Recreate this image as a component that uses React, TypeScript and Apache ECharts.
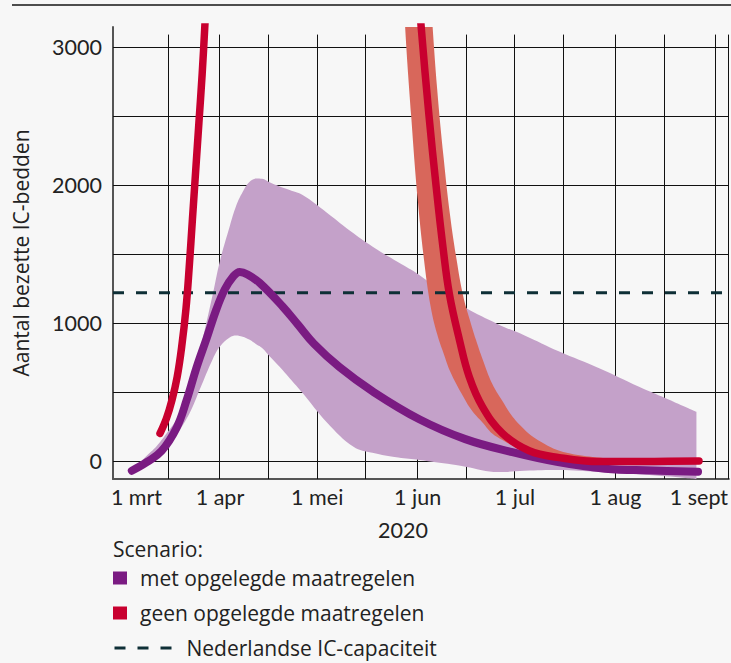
import React, { useEffect, useRef } from 'react';
import * as echarts from 'echarts';

// ---- time scale helpers (day offsets from 1 March 2020) ----
const DAY_MS = 86400000;
const START = Date.UTC(2020, 2, 1);
const day = (d: number) => START + d * DAY_MS;

// ---- axes ----
const xMinDay = -2;
const xMaxDay = 188;
const yMin = -130;
const yMax = 3145;
const xTickDays = [0, 31, 61, 92, 122, 153, 184];
const xTickLabels = ['1 mrt', '1 apr', '1 mei', '1 jun', '1 jul', '1 aug', '1 sept'];
const xGridDays = [15, 31, 46, 61, 76, 92, 107, 122, 137, 153, 168, 184, 188];
const yTickValues = [0, 1000, 2000, 3000];
const yGridValues = [0, 500, 1000, 1500, 2000, 2500, 3000];
const gridLineTop = 3090;

// ---- scenario: met opgelegde maatregelen ----
const metDays = [3.8, 8.4, 13, 17.6, 20.7, 23.8, 26.9, 29.9, 32.5, 35, 37.1, 39.5, 43.3, 50.4, 55, 60, 67.9, 78.1, 92.5, 106.7, 121.2, 135.3, 149.8, 164.3, 178.5];
const metValues = [-70, -8, 74, 240, 440, 680, 890, 1100, 1245, 1335, 1370, 1352, 1290, 1118, 990, 850, 680, 505, 303, 159, 65, -7, -55, -68, -77];

const metBandDays = [4.8, 8, 11.5, 14.5, 17.6, 21.7, 24.8, 28.8, 31, 34, 36, 38, 40, 42.3, 44, 46.3, 49.4, 52.5, 56.5, 64, 72.2, 78, 86, 92.5, 102.7, 106.7, 116.9, 125, 135.5, 148, 160.3, 168.5, 178];
const metBandHigh = [-45, 30, 110, 200, 303, 520, 800, 1210, 1450, 1700, 1850, 1950, 2020, 2048, 2045, 2020, 1990, 1964, 1928, 1800, 1650, 1555, 1440, 1348, 1167, 1110, 990, 910, 795, 672, 538, 455, 357];
const metBandLow = [-75, -35, 25, 95, 190, 350, 520, 740, 830, 895, 910, 900, 880, 845, 820, 760, 683, 600, 493, 280, 104, 60, 25, 7, -25, -41, -80, -70, -65, -80, -97, -110, -130];

// ---- scenario: geen opgelegde maatregelen ----
const geenDays = [12.5, 14.5, 16.2, 17.8, 19.2, 20.5, 21.5, 22.5, 23.5, 24.5, 25.5, 26.3, 27, 60, 92, 93.1, 95.5, 97.7, 99.8, 101.8, 104.9, 107.9, 112, 118.2, 126.4, 135.7, 148, 165, 178.8];
const geenValues = [200, 310, 442, 610, 830, 1100, 1400, 1750, 2100, 2450, 2800, 3137, 3450, null, 3500, 3140, 2500, 1988, 1550, 1208, 877, 611, 393, 200, 75, 25, -4, -3, 0];

const geenBandDays = [86, 88, 90, 92, 94, 96, 98, 100, 102, 104, 106, 108, 110, 112, 115, 118, 121, 124, 127, 130, 134, 138, 142, 146, 150];
const geenBandLow = [4200, 3200, 2500, 1900, 1450, 1120, 920, 780, 650, 555, 470, 390, 330, 280, 200, 155, 115, 88, 68, 52, 38, 28, 22, 17, 13];
const geenBandHigh = [7000, 6200, 5400, 4700, 4000, 3350, 2700, 2200, 1780, 1460, 1200, 1030, 877, 740, 560, 440, 330, 250, 185, 140, 90, 60, 42, 30, 22];

// ---- capacity ----
const capacity = 1220;

// ---- names ----
const nameMet = 'met opgelegde maatregelen';
const nameGeen = 'geen opgelegde maatregelen';
const nameCap = 'Nederlandse IC-capaciteit';

// ---- styles ----
const BG = '#f7f7f7';
const TEXT = '#222222';
const PURPLE = '#7a1b82';
const PURPLE_BAND = '#c4a1c9';
const RED = '#c8002f';
const SALMON = '#d8675b';
const DASH = '#0e2f36';
const GRID = '#111111';
const AXIS = '#555555';
const TICK_FONT = 'Lato';
const TEXT_FONT = 'Open Sans';

const crisp = (p: number) => Math.round(p - 0.5) + 0.5;

function buildOption() {
  const labelRich = {
    first: { fontFamily: TICK_FONT, fontSize: 21.5, color: TEXT, padding: [0, 0, 0, 34] },
    last: { fontFamily: TICK_FONT, fontSize: 21.5, color: TEXT, padding: [0, 34, 0, 0] },
  };
  const bandCommon = {
    type: 'line',
    xAxisIndex: 1,
    stackStrategy: 'all',
    smooth: 0.4,
    symbol: 'none',
    silent: true,
    lineStyle: { width: 0, opacity: 0 },
    z: 2,
  };
  const gridLineStyle = { stroke: GRID, lineWidth: 1 };
  return {
    animation: false,
    backgroundColor: BG,
    textStyle: { fontFamily: TEXT_FONT },
    graphic: [
      {
        type: 'line',
        silent: true,
        shape: { x1: 12, y1: 5, x2: 731, y2: 5 },
        style: { stroke: '#4d4d4d', lineWidth: 2 },
      },
    ],
    title: {
      text: 'Scenario:',
      left: 113,
      top: 538,
      padding: 0,
      textStyle: { fontFamily: TEXT_FONT, fontSize: 21, fontWeight: 'normal', color: TEXT, lineHeight: 22 },
    },
    legend: [
      {
        data: [nameMet, nameGeen],
        orient: 'vertical',
        left: 113,
        top: 567,
        padding: 0,
        icon: 'rect',
        itemWidth: 14,
        itemHeight: 13,
        itemGap: 13,
        selectedMode: false,
        textStyle: { fontFamily: TEXT_FONT, fontSize: 21, color: TEXT, lineHeight: 22, padding: [0, 0, 0, 8] },
      },
      {
        data: [nameCap],
        orient: 'vertical',
        left: 113,
        top: 637,
        padding: 0,
        itemWidth: 57,
        itemHeight: 13,
        selectedMode: false,
        lineStyle: { width: 3 },
        itemStyle: { color: 'rgba(0,0,0,0)', borderWidth: 0, opacity: 0 },
        textStyle: { fontFamily: TEXT_FONT, fontSize: 21, color: TEXT, lineHeight: 22, padding: [0, 0, 0, 10] },
      },
    ],
    grid: { left: 113, right: 1, top: 27, bottom: 184, containLabel: false },
    xAxis: [
      {
        type: 'value',
        min: xMinDay,
        max: xMaxDay,
        name: '2020',
        nameLocation: 'middle',
        nameGap: 40,
        nameTextStyle: { fontFamily: TICK_FONT, fontSize: 21.5, color: TEXT, padding: [0, 36, 0, 0] },
        axisLine: { show: true, onZero: false, lineStyle: { color: AXIS, width: 2 } },
        axisTick: { show: false },
        splitLine: { show: false },
        axisLabel: {
          customValues: xTickDays,
          margin: 7,
          fontFamily: TICK_FONT,
          fontSize: 21.5,
          color: TEXT,
          rich: labelRich,
          formatter: (v: number) => {
            const i = xTickDays.indexOf(v);
            if (i < 0) return '';
            if (i === 0) return '{first|' + xTickLabels[i] + '}';
            if (i === xTickLabels.length - 1) return '{last|' + xTickLabels[i] + '}';
            return xTickLabels[i];
          },
        },
      },
      {
        type: 'time',
        show: false,
        min: day(xMinDay),
        max: day(xMaxDay),
        axisLine: { onZero: false },
        splitLine: { show: false },
      },
    ],
    yAxis: {
      type: 'value',
      min: yMin,
      max: yMax,
      name: 'Aantal bezette IC-bedden',
      nameLocation: 'middle',
      nameGap: 82,
      nameTextStyle: { fontFamily: TEXT_FONT, fontSize: 21, color: TEXT },
      axisLine: { show: true, onZero: false, lineStyle: { color: AXIS, width: 2 } },
      axisTick: { show: false },
      splitLine: { show: false },
      axisLabel: {
        customValues: yTickValues,
        formatter: (v: number) => String(v),
        margin: 11,
        fontFamily: TICK_FONT,
        fontSize: 21.5,
        color: TEXT,
      },
    },
    series: [
      {
        name: 'raster-h',
        type: 'custom',
        xAxisIndex: 0,
        silent: true,
        z: 1,
        data: yGridValues.map((v) => [xMinDay, v]),
        renderItem: (params: any, api: any) => {
          const v = api.value(1);
          const a = api.coord([xMinDay, v]);
          const b = api.coord([xMaxDay, v]);
          const y = crisp(a[1]);
          return {
            type: 'line',
            shape: { x1: a[0], y1: y, x2: b[0], y2: y },
            style: gridLineStyle,
          };
        },
      },
      {
        name: 'raster-v',
        type: 'custom',
        xAxisIndex: 0,
        silent: true,
        z: 1,
        data: xGridDays.map((d) => [d, yMin]),
        renderItem: (params: any, api: any) => {
          const d = api.value(0);
          const a = api.coord([d, gridLineTop]);
          const b = api.coord([d, yMin]);
          const x = crisp(a[0]);
          return {
            type: 'line',
            shape: { x1: x, y1: a[1], x2: x, y2: b[1] },
            style: gridLineStyle,
          };
        },
      },
      {
        ...bandCommon,
        name: 'met-band-low',
        stack: 'metBand',
        data: metBandDays.map((d, i) => [day(d), metBandLow[i]]),
      },
      {
        ...bandCommon,
        name: 'met-band',
        stack: 'metBand',
        data: metBandDays.map((d, i) => [day(d), metBandHigh[i] - metBandLow[i]]),
        areaStyle: { color: PURPLE_BAND, opacity: 1 },
      },
      {
        ...bandCommon,
        name: 'geen-band-low',
        stack: 'geenBand',
        data: geenBandDays.map((d, i) => [day(d), geenBandLow[i]]),
      },
      {
        ...bandCommon,
        name: 'geen-band',
        stack: 'geenBand',
        data: geenBandDays.map((d, i) => [day(d), geenBandHigh[i] - geenBandLow[i]]),
        areaStyle: { color: SALMON, opacity: 1 },
      },
      {
        name: nameCap,
        type: 'line',
        xAxisIndex: 0,
        data: [
          [xMinDay, capacity],
          [xMaxDay, capacity],
        ],
        symbol: 'none',
        silent: true,
        itemStyle: { color: DASH },
        lineStyle: { color: DASH, width: 3, type: [11, 12] },
        z: 3,
      },
      {
        name: nameMet,
        type: 'line',
        xAxisIndex: 1,
        data: metDays.map((d, i) => [day(d), metValues[i]]),
        smooth: 0.4,
        symbol: 'none',
        silent: true,
        itemStyle: { color: PURPLE },
        lineStyle: { color: PURPLE, width: 8, cap: 'round', join: 'round' },
        z: 4,
      },
      {
        name: nameGeen,
        type: 'line',
        xAxisIndex: 1,
        data: geenDays.map((d, i) => [day(d), geenValues[i]]),
        smooth: 0.4,
        symbol: 'none',
        silent: true,
        connectNulls: false,
        itemStyle: { color: RED },
        lineStyle: { color: RED, width: 7.5, cap: 'round', join: 'round' },
        z: 5,
      },
    ],
  };
}

export default function App() {
  const ref = useRef<HTMLDivElement>(null);
  useEffect(() => {
    if (!ref.current) return;
    const chart = echarts.init(ref.current, undefined, { renderer: 'svg' });
    chart.setOption(buildOption() as any);
    return () => {
      chart.dispose();
    };
  }, []);
  return (
    <div
      ref={ref}
      style={{ position: 'absolute', left: 0, top: 0, width: 731, height: 663, background: BG }}
    />
  );
}
